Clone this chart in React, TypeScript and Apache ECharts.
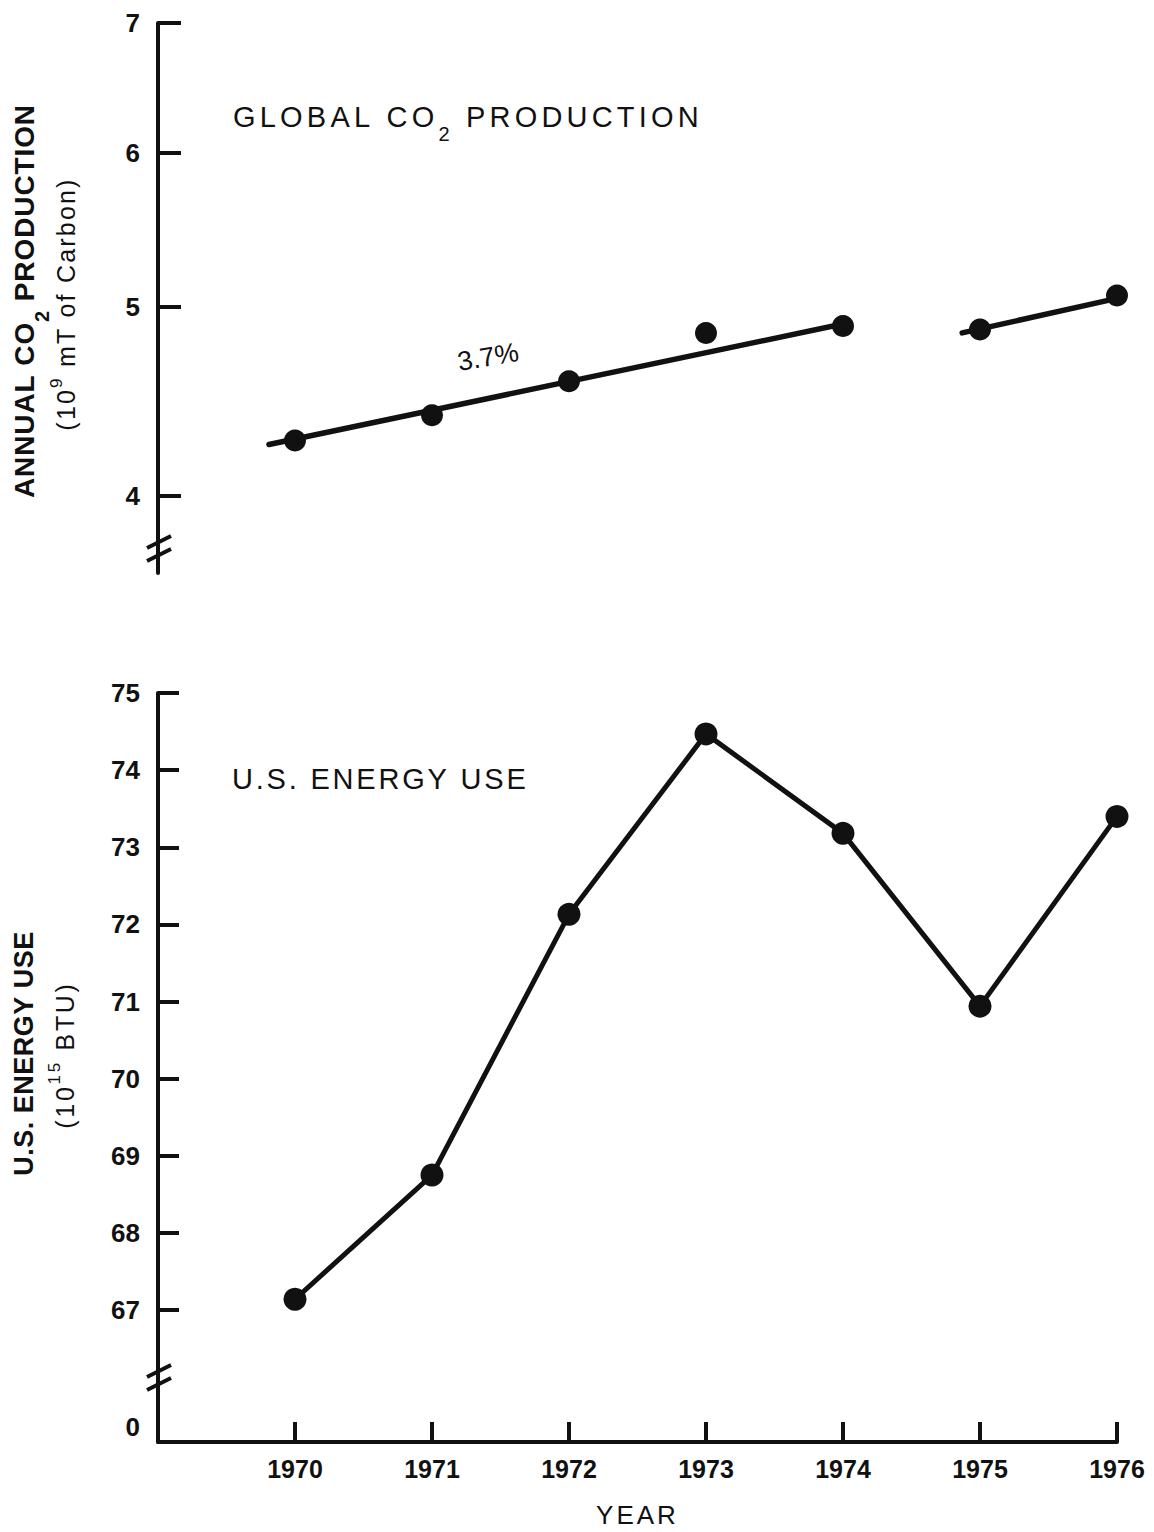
import React, { useEffect, useRef } from 'react';
import * as echarts from 'echarts';

// ---------- data ----------
const years = [1970, 1971, 1972, 1973, 1974, 1975, 1976];
const co2Production = [4.27, 4.4, 4.58, 4.85, 4.89, 4.87, 5.07]; // 10^9 mT of carbon
const energyUse = [67.14, 68.75, 72.13, 74.47, 73.18, 70.94, 73.4]; // 10^15 BTU
const trendEarlyYears = [1969.81, 1974.05];
const trendEarlyValues = [4.25, 4.91];
const trendLateYears = [1974.87, 1976.15];
const trendLateValues = [4.85, 5.08];
const co2Ticks = [4, 5, 6, 7];
const energyTicks = [67, 68, 69, 70, 71, 72, 73, 74, 75];
const growthLabel = '3.7%';

// ---------- axis ranges ----------
const YEAR_MIN = 1969;
const YEAR_MAX = 1976;
const CO2_AXIS_MIN = 3.65;
const CO2_AXIS_MAX = 7;
const ENERGY_AXIS_MIN = 65.289;
const ENERGY_AXIS_MAX = 75;

// ---------- style ----------
const INK = '#111';
const FONT = '"Liberation Sans", Arial, Helvetica, sans-serif';
const GRID_LEFT = 158;
const GRID_WIDTH = 959;
const TOP_GRID = { top: 23, height: 550 };
const BOTTOM_GRID = { top: 693, height: 749 };
const AXIS_W = 4;

type Seg = [string, string];
const tracked = (segs: Seg[]) =>
  segs
    .map(([t, k]) =>
      Array.from(t)
        .map((c) => `{${k}|${c}}`)
        .join('')
    )
    .join('');

// ECharts-level rich token
const ecTok = (fontSize: number, lineHeight: number, padTop: number, track: number, weight = 'normal') => ({
  fontSize,
  fontWeight: weight,
  fontFamily: FONT,
  color: INK,
  lineHeight,
  padding: [padTop, track, 0, 0],
  verticalAlign: 'top',
});
// zrender-level rich token (graphic)
const zrTok = (fontSize: number, lineHeight: number, padTop: number, track: number, weight = 'normal') => ({
  fontSize,
  fontWeight: weight,
  fontFamily: FONT,
  fill: INK,
  lineHeight,
  padding: [padTop, track, 0, 0],
  verticalAlign: 'top',
});

const log10 = (v: number) => Math.log10(v);

const breakMark = (cx: number, cy: number) => [
  {
    type: 'line',
    z: 10,
    shape: { x1: cx - 12, y1: cy, x2: cx + 12, y2: cy - 12 },
    style: { stroke: INK, lineWidth: AXIS_W },
  },
  {
    type: 'line',
    z: 10,
    shape: { x1: cx - 12, y1: cy + 13, x2: cx + 12, y2: cy + 1 },
    style: { stroke: INK, lineWidth: AXIS_W },
  },
];

const rotatedName = (x: number, y: number, text: string, rich: any) => ({
  type: 'text',
  x,
  y,
  rotation: Math.PI / 2,
  z: 10,
  style: {
    text,
    rich,
    fill: INK,
    fontFamily: FONT,
    align: 'center',
    textAlign: 'center',
    verticalAlign: 'top',
    textVerticalAlign: 'top',
  },
});

const axisLine = { show: true, onZero: false, lineStyle: { color: INK, width: AXIS_W } };

const option: any = {
  animation: false,
  backgroundColor: '#fff',
  textStyle: { fontFamily: FONT, color: INK },
  title: [
    {
      left: 233,
      top: 102.5,
      padding: 0,
      text: tracked([
        ['GLOBAL CO', 'm'],
        ['2', 's'],
        [' PRODUCTION', 'm'],
      ]),
      textStyle: { rich: { m: ecTok(29, 34, 0, 4.2), s: ecTok(20, 20, 21, 4.2) } },
    },
    {
      left: 232,
      top: 764,
      padding: 0,
      text: tracked([['U.S. ENERGY USE', 'm']]),
      textStyle: { rich: { m: ecTok(29, 34, 0, 2.8) } },
    },
  ],
  grid: [
    { left: GRID_LEFT, width: GRID_WIDTH, top: TOP_GRID.top, height: TOP_GRID.height },
    { left: GRID_LEFT, width: GRID_WIDTH, top: BOTTOM_GRID.top, height: BOTTOM_GRID.height },
  ],
  xAxis: [
    { gridIndex: 0, type: 'value', min: YEAR_MIN, max: YEAR_MAX, show: false },
    {
      gridIndex: 1,
      type: 'value',
      min: YEAR_MIN,
      max: YEAR_MAX,
      axisLine,
      axisTick: {
        show: true,
        inside: true,
        length: 20,
        customValues: years,
        lineStyle: { color: INK, width: AXIS_W },
      },
      axisLabel: {
        customValues: years,
        margin: 14,
        fontSize: 25,
        fontWeight: 'bold',
        fontFamily: FONT,
        color: INK,
        formatter: (v: number) => String(Math.round(v)),
      },
      splitLine: { show: false },
      name: tracked([['YEAR', 'y']]),
      nameLocation: 'middle',
      nameGap: 60,
      nameTextStyle: {
        rich: { y: { fontSize: 26, lineHeight: 26, padding: [0, 3, 0, 0], color: INK, fontFamily: FONT } },
      },
    },
  ],
  yAxis: [
    {
      gridIndex: 0,
      type: 'value',
      min: log10(CO2_AXIS_MIN),
      max: log10(CO2_AXIS_MAX),
      axisLine,
      axisTick: {
        show: true,
        inside: true,
        length: 23,
        customValues: co2Ticks.map(log10),
        lineStyle: { color: INK, width: AXIS_W },
      },
      axisLabel: {
        customValues: co2Ticks.map(log10),
        margin: 18,
        fontSize: 26,
        fontWeight: 'bold',
        fontFamily: FONT,
        color: INK,
        formatter: (v: number) => String(Math.round(Math.pow(10, v))),
      },
      splitLine: { show: false },
    },
    {
      gridIndex: 1,
      type: 'value',
      min: ENERGY_AXIS_MIN,
      max: ENERGY_AXIS_MAX,
      axisLine,
      axisTick: {
        show: true,
        inside: true,
        length: 21,
        customValues: energyTicks,
        lineStyle: { color: INK, width: AXIS_W },
      },
      axisLabel: {
        customValues: [ENERGY_AXIS_MIN, ...energyTicks],
        margin: 18,
        fontSize: 26,
        fontWeight: 'bold',
        fontFamily: FONT,
        color: INK,
        formatter: (v: number) => (v < energyTicks[0] - 0.5 ? '{zero|0}' : String(Math.round(v))),
        rich: {
          zero: { fontSize: 26, fontWeight: 'bold', fontFamily: FONT, color: INK, padding: [0, 0, 30, 0] },
        },
      },
      splitLine: { show: false },
    },
  ],
  series: [
    {
      name: 'trend 1970-1974',
      type: 'line',
      xAxisIndex: 0,
      yAxisIndex: 0,
      clip: false,
      symbol: 'none',
      lineStyle: { color: INK, width: 5.5, cap: 'round' },
      data: trendEarlyYears.map((x, i) => [x, log10(trendEarlyValues[i])]),
    },
    {
      name: 'trend 1975-1976',
      type: 'line',
      xAxisIndex: 0,
      yAxisIndex: 0,
      clip: false,
      symbol: 'none',
      lineStyle: { color: INK, width: 5.5, cap: 'round' },
      data: trendLateYears.map((x, i) => [x, log10(trendLateValues[i])]),
    },
    {
      name: 'Global CO2 production',
      type: 'scatter',
      xAxisIndex: 0,
      yAxisIndex: 0,
      clip: false,
      symbol: 'circle',
      symbolSize: 22,
      itemStyle: { color: INK, opacity: 1 },
      data: years.map((x, i) => [x, log10(co2Production[i])]),
    },
    {
      name: 'U.S. energy use',
      type: 'line',
      xAxisIndex: 1,
      yAxisIndex: 1,
      clip: false,
      symbol: 'circle',
      symbolSize: 23,
      lineStyle: { color: INK, width: 5 },
      itemStyle: { color: INK, opacity: 1 },
      data: years.map((x, i) => [x, energyUse[i]]),
    },
  ],
  graphic: [
    ...breakMark(159, 548),
    ...breakMark(159, 1377),
    {
      type: 'text',
      x: 488,
      y: 357,
      rotation: 0.17,
      z: 10,
      style: {
        text: growthLabel,
        fill: INK,
        fontSize: 27,
        fontFamily: FONT,
        align: 'center',
        textAlign: 'center',
        verticalAlign: 'middle',
        textVerticalAlign: 'middle',
      },
    },
    rotatedName(
      10.3,
      301,
      tracked([
        ['ANNUAL CO', 'a'],
        ['2', 's'],
        [' PRODUCTION', 'a'],
      ]),
      { a: zrTok(28, 32, 0, 0.9, 'bold'), s: zrTok(20, 20, 22, 0.9, 'bold') }
    ),
    rotatedName(
      47.5,
      304,
      tracked([
        ['(10', 'b'],
        ['9', 'p'],
        [' mT of Carbon)', 'b'],
      ]),
      { b: zrTok(25, 28, 6, 2.2), p: zrTok(17, 17, 0, 2.2) }
    ),
    rotatedName(10.7, 1053.5, tracked([['U.S. ENERGY USE', 'c']]), { c: zrTok(27, 32, 0, 0.5, 'bold') }),
    rotatedName(
      46,
      1055,
      tracked([
        ['(10', 'd'],
        ['15', 'p'],
        [' BTU)', 'd'],
      ]),
      { d: zrTok(25, 28, 6, 2.7), p: zrTok(17, 17, 0, 2.7) }
    ),
  ],
};

export default function App() {
  const ref = useRef<HTMLDivElement>(null);
  useEffect(() => {
    if (!ref.current) return;
    const chart = echarts.init(ref.current, null, { renderer: 'svg' });
    chart.setOption(option);
    return () => chart.dispose();
  }, []);
  return (
    <div
      ref={ref}
      style={{ position: 'absolute', left: 0, top: 0, width: 1154, height: 1532, background: '#fff' }}
    />
  );
}
